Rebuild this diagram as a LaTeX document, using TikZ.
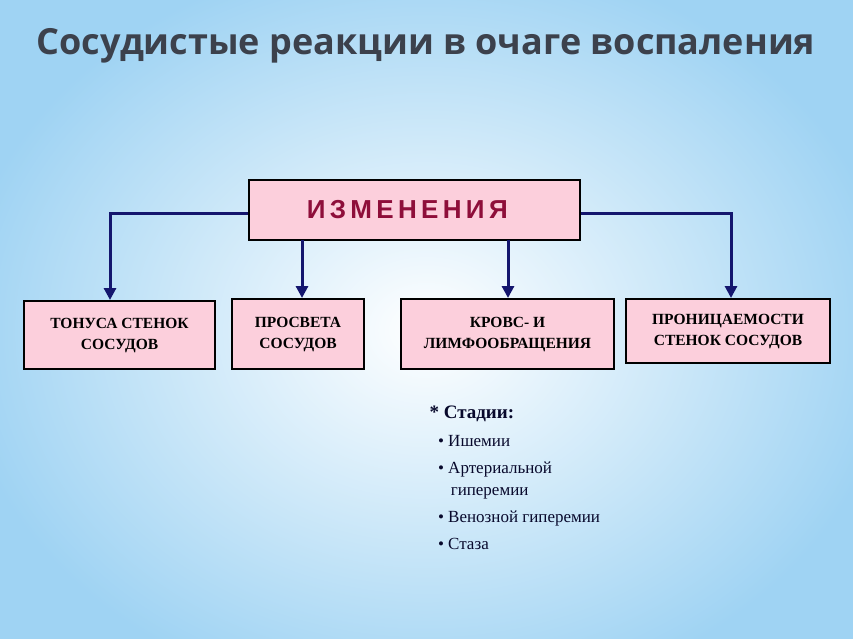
\documentclass[tikz,border=0pt]{standalone}
\usepackage{fontspec}
\setmainfont{Liberation Serif}
\newfontfamily\ttl{Open Sans}
\newfontfamily\arl{Liberation Sans}
\usetikzlibrary{arrows.meta}
\definecolor{bgblue}{HTML}{9FD3F3}
\definecolor{boxpink}{HTML}{FCCFDC}
\definecolor{navy}{HTML}{14166E}
\definecolor{wine}{HTML}{8E0E3A}
\definecolor{ttlgrey}{HTML}{3C414C}
\newcommand{\twol}[3]{\raisebox{#1}{\begin{tabular}{@{}c@{}}#2\\[1pt]#3\end{tabular}}}
\tikzset{
 box/.style={draw=black,line width=2pt,fill=boxpink,inner sep=0pt,align=center,font=\bfseries\fontsize{15.5}{20}\selectfont},
 conn/.style={draw=navy,line width=3pt,-{Triangle[width=12pt,length=12pt]}},
}
\begin{document}
\begin{tikzpicture}[x=1pt,y=-1pt]
\useasboundingbox (0,0) rectangle (853,639);
\fill[bgblue] (0,0) rectangle (853,639);
\shade[inner color=white,outer color=bgblue,opacity=1] (426,330) ellipse (470 and 380);
\node[font=\ttl\bfseries\fontsize{36}{40}\selectfont,text=ttlgrey] (title) at (426,46) {Сосудистые реакции в очаге воспаления};
\node[box,minimum width=331pt,minimum height=60pt] (top) at (414.5,210) {\arl\fontsize{26}{28}\selectfont\color{wine}И\,З\,М\,Е\,Н\,Е\,Н\,И\,Я\ \ };
\node[box,minimum width=191pt,minimum height=68pt,anchor=north west] (b1) at (23,300) {\twol{4pt}{ТОНУСА СТЕНОК}{СОСУДОВ}};
\node[box,minimum width=132pt,minimum height=70pt,anchor=north west] (b2) at (231,298) {\twol{6pt}{ПРОСВЕТА}{СОСУДОВ}};
\node[box,minimum width=213pt,minimum height=70pt,anchor=north west] (b3) at (400,298) {\twol{6pt}{КРОВС- И}{ЛИМФООБРАЩЕНИЯ}};
\node[box,minimum width=204pt,minimum height=64pt,anchor=north west] (b4) at (625,298) {\twol{3pt}{ПРОНИЦАЕМОСТИ}{СТЕНОК СОСУДОВ}};
\draw[conn] (top.west |- 0,213) -| (110,300);
\draw[conn] (top.east |- 0,213) -| (731,298);
\draw[conn] (302,240) -- (302,298);
\draw[conn] (508,240) -- (508,298);
\node[anchor=north west,align=left,font=\fontsize{17}{26}\selectfont,text=navy!40!black] (st) at (426,402) {\textbf{\fontsize{19}{20}\selectfont * Стадии:}\\[2pt]
\ \ \textbullet\ Ишемии\\[1pt]
\ \ \textbullet\ Артериальной\\[-4pt]
\ \ \ \ \ гиперемии\\[1pt]
\ \ \textbullet\ Венозной гиперемии\\[1pt]
\ \ \textbullet\ Стаза};
\end{tikzpicture}
\end{document}
